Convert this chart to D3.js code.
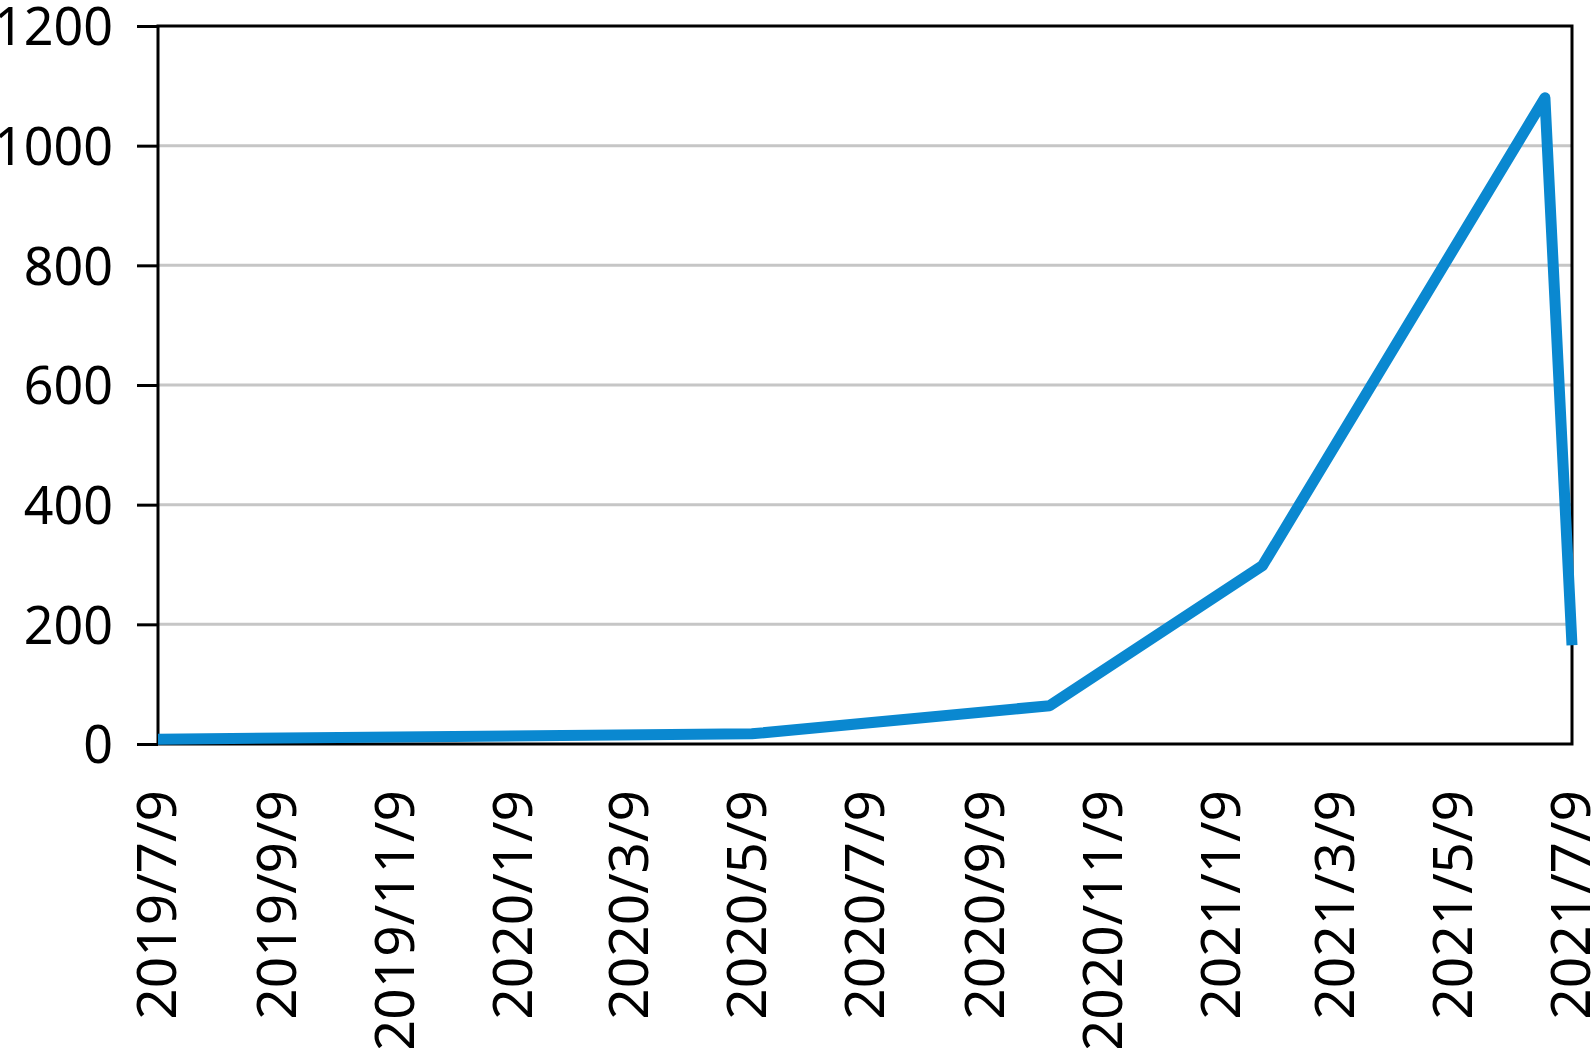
<!DOCTYPE html>
<html>
<head>
<meta charset="utf-8">
<script src="https://cdn.jsdelivr.net/npm/d3@7/dist/d3.min.js"></script>
<style>
  html, body { margin: 0; padding: 0; background: #fff; }
  svg { display: block; }
  text { font-family: "Noto Sans", "Open Sans", sans-serif; fill: #000; }
</style>
</head>
<body>
<svg id="chart" width="1595" height="1048"></svg>
<script>
// ---- data ----
const dates = ["2019/7/9", "2020/5/11", "2020/10/12", "2021/1/30", "2021/6/25", "2021/7/9"];
const values = [8, 17, 64, 298, 1080, 165];
const xTickLabels = ["2019/7/9", "2019/9/9", "2019/11/9", "2020/1/9", "2020/3/9", "2020/5/9",
                     "2020/7/9", "2020/9/9", "2020/11/9", "2021/1/9", "2021/3/9", "2021/5/9", "2021/7/9"];
const yTicks = [0, 200, 400, 600, 800, 1000, 1200];
const xDomain = ["2019/7/9", "2021/7/9"];
const yDomain = [0, 1200];

// ---- layout ----
const margin = { left: 158, top: 26, right: 23, bottom: 304 };
const W = 1595, H = 1048;
const iw = W - margin.left - margin.right;
const ih = H - margin.top - margin.bottom;

const parse = d3.timeParse("%Y/%-m/%-d");
const svg = d3.select("#chart");
const g = svg.append("g").attr("transform", `translate(${margin.left},${margin.top})`);

const x = d3.scaleTime().domain(xDomain.map(parse)).range([0, iw]);
const y = d3.scaleLinear().domain(yDomain).range([ih, 0]);

// gridlines
g.append("g").selectAll("line").data(yTicks.filter(t => t > 0 && t < 1200)).join("line")
  .attr("x1", 0).attr("x2", iw)
  .attr("y1", d => y(d)).attr("y2", d => y(d))
  .attr("stroke", "#c6c6c6").attr("stroke-width", 3);

// y axis
const yAxis = g.append("g")
  .call(d3.axisLeft(y).tickValues(yTicks).tickSize(21).tickPadding(24).tickFormat(d3.format("d")));
yAxis.select(".domain").remove();
yAxis.selectAll(".tick line").attr("stroke", "#000").attr("stroke-width", 3);
yAxis.selectAll(".tick text")
  .style("font-size", "52px").attr("dy", "0.36em").attr("fill", "#000")
  .style("font-family", "'Noto Sans', sans-serif");

// frame
g.append("rect").attr("x", 0).attr("y", 0).attr("width", iw).attr("height", ih)
  .attr("fill", "none").attr("stroke", "#000").attr("stroke-width", 3);

// x axis labels
const xAxis = g.append("g").attr("transform", `translate(0,${ih})`)
  .call(d3.axisBottom(x).tickValues(xTickLabels.map(parse)).tickSize(0).tickFormat(d3.timeFormat("%Y/%-m/%-d")));
xAxis.select(".domain").remove();
xAxis.selectAll(".tick text")
  .style("font-size", "55px")
  .style("font-family", "'Noto Sans', sans-serif")
  .attr("fill", "#000")
  .attr("text-anchor", "end")
  .attr("transform", "translate(-2,46) rotate(-90)")
  .attr("x", 0).attr("y", 0).attr("dy", "0.36em");

// line
const pts = dates.map((d, i) => ({ date: parse(d), value: values[i] }));
g.append("path").datum(pts)
  .attr("fill", "none")
  .attr("stroke", "#0a88d0")
  .attr("stroke-width", 11)
  .attr("stroke-linejoin", "round")
  .attr("stroke-linecap", "butt")
  .attr("d", d3.line().x(d => x(d.date)).y(d => y(d.value)));
</script>
</body>
</html>
